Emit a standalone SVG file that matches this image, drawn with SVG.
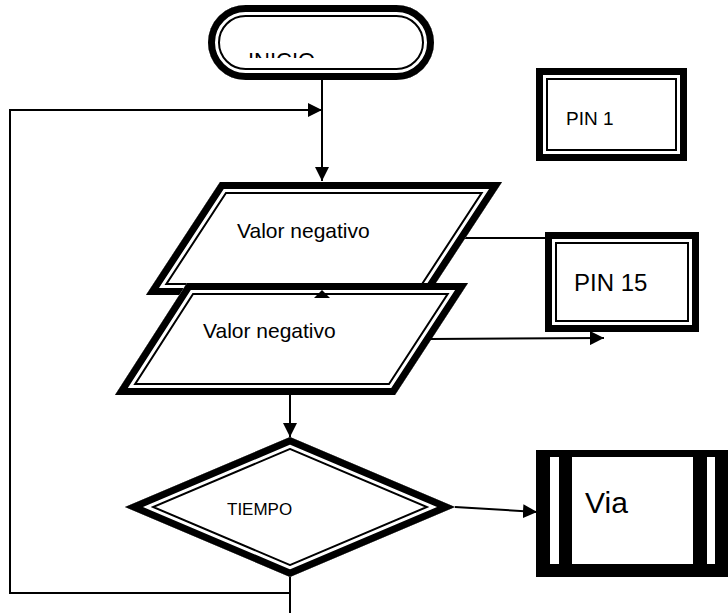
<svg xmlns="http://www.w3.org/2000/svg" xmlns:xlink="http://www.w3.org/1999/xlink" width="728" height="613" viewBox="0 0 728 613">
<style>
.b1{fill:#fff;stroke:#000;stroke-width:24;stroke-linejoin:miter;stroke-miterlimit:10}
.b2{fill:none;stroke:#fff;stroke-width:20;stroke-linejoin:miter;stroke-miterlimit:10}
.b3{fill:none;stroke:#000;stroke-width:14;stroke-linejoin:miter;stroke-miterlimit:10}
.ln{fill:none;stroke:#000;stroke-width:2}
.ar{fill:none;stroke:#000;stroke-width:2;marker-end:url(#arr)}
.w{fill:#fff}
text{font-family:"Liberation Sans",Arial,sans-serif;fill:#000}
</style>
<defs>
<marker id="arr" markerUnits="userSpaceOnUse" markerWidth="14" markerHeight="14" refX="14" refY="7" orient="auto">
<path d="M0,0 L14,7 L0,14 Z" fill="#000"/>
</marker>
<rect id="s-inicio" x="208" y="5" width="226" height="75" rx="37.5" ry="37.5"/>
<rect id="s-pin1" x="536" y="68" width="151" height="93"/>
<polygon id="s-para1" points="220,182 502,182 428,295 146,295"/>
<polygon id="s-pin15" points="545,232 699,232 699,332 545,332"/>
<polygon id="s-para2" points="187,283 468,283 395,395 115,395"/>
<polygon id="s-dia" points="290,437 455,507 290,577 125,507"/>
<clipPath id="c-inicio"><use xlink:href="#s-inicio"/></clipPath>
<clipPath id="c-pin1"><use xlink:href="#s-pin1"/></clipPath>
<clipPath id="c-para1"><use xlink:href="#s-para1"/></clipPath>
<clipPath id="c-pin15"><use xlink:href="#s-pin15"/></clipPath>
<clipPath id="c-para2"><use xlink:href="#s-para2"/></clipPath>
<clipPath id="c-dia"><use xlink:href="#s-dia"/></clipPath>
<clipPath id="c-txt"><rect x="200" y="0" width="240" height="58"/></clipPath>
</defs>

<g id="connectors-under">
<path class="ln" d="M463,238 L623,238"/>
</g>

<g id="inicio">
<g clip-path="url(#c-inicio)">
<use xlink:href="#s-inicio" class="b1"/><use xlink:href="#s-inicio" class="b2"/><use xlink:href="#s-inicio" class="b3"/>
</g>
<text x="248" y="68" font-size="22" clip-path="url(#c-txt)">INICIO</text>
</g>

<g id="pin1">
<g clip-path="url(#c-pin1)">
<use xlink:href="#s-pin1" class="b1"/><use xlink:href="#s-pin1" class="b2"/><use xlink:href="#s-pin1" class="b3"/>
</g>
<text x="566" y="125" font-size="19">PIN 1</text>
</g>

<g id="valor1">
<g clip-path="url(#c-para1)">
<use xlink:href="#s-para1" class="b1"/><use xlink:href="#s-para1" class="b2"/><use xlink:href="#s-para1" class="b3"/>
</g>
<text x="237" y="238" font-size="21">Valor negativo</text>
</g>

<g id="pin15">
<g clip-path="url(#c-pin15)">
<use xlink:href="#s-pin15" class="b1"/><use xlink:href="#s-pin15" class="b2"/><use xlink:href="#s-pin15" class="b3"/>
</g>
<text x="574" y="291" font-size="24">PIN 15</text>
</g>

<g id="valor2">
<g clip-path="url(#c-para2)">
<use xlink:href="#s-para2" class="b1"/><use xlink:href="#s-para2" class="b2"/><use xlink:href="#s-para2" class="b3"/>
</g>
<text x="203" y="338" font-size="21">Valor negativo</text>
</g>

<g id="tiempo">
<g clip-path="url(#c-dia)">
<use xlink:href="#s-dia" class="b1"/><use xlink:href="#s-dia" class="b2"/><use xlink:href="#s-dia" class="b3"/>
</g>
<text x="227" y="515" font-size="17">TIEMPO</text>
</g>

<g id="via">
<rect x="536" y="450" width="192" height="127" fill="#000"/>
<rect class="w" x="550" y="457" width="9" height="107"/>
<rect class="w" x="572" y="457" width="121" height="107"/>
<rect class="w" x="707" y="457" width="8" height="107"/>
<text x="585" y="513" font-size="30">Via</text>
</g>

<g id="connectors">
<path class="ar" d="M322,79 L322,181"/>
<path class="ar" d="M290,593 L10,593 L10,110 L322,110"/>
<path class="ln" d="M290,577 L290,613"/>
<path class="ar" d="M290,395 L290,437"/>
<path class="ar" d="M430,339 L604,338"/>
<path class="ar" d="M455,507 L537,512"/>
<path d="M322,290 L330,298 L314,298 Z" fill="#000"/>
</g>
</svg>
